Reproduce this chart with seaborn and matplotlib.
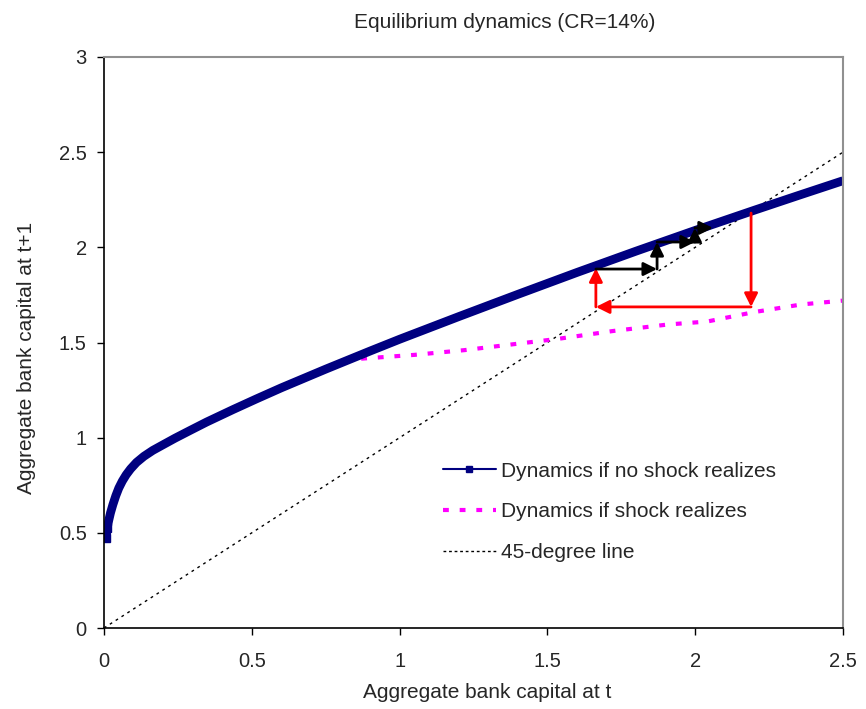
import matplotlib
matplotlib.use("Agg")
import matplotlib.pyplot as plt
from matplotlib.lines import Line2D
import seaborn as sns
import pandas as pd

# no-shock dynamics
k_t = [0.007, 0.011, 0.016, 0.022, 0.03, 0.04, 0.05, 0.062, 0.075, 0.09,
       0.11, 0.135, 0.165, 0.2, 0.24, 0.29, 0.347, 0.437, 0.516, 0.6, 0.75,
       0.9, 1.0, 1.2, 1.4, 1.6, 1.8, 2.0, 2.2, 2.35, 2.5]
k_next = [0.473, 0.527, 0.565, 0.605, 0.648, 0.695, 0.735, 0.772, 0.805, 0.836,
          0.870, 0.902, 0.933, 0.963, 0.997, 1.037, 1.082, 1.148, 1.204, 1.262,
          1.36, 1.455, 1.517, 1.636, 1.753, 1.868, 1.98, 2.089, 2.195, 2.273,
          2.35]

# shock dynamics
k_t_shock = [0.87, 1.05, 1.22, 1.38, 1.54, 1.72, 1.91, 2.04, 2.2, 2.36, 2.5]
k_next_shock = [1.415, 1.435, 1.46, 1.49, 1.52, 1.56, 1.595, 1.61, 1.66, 1.70, 1.72]

diag = [0, 2.5]

# arrow paths
red_path = [(2.189, 2.18), (2.189, 1.687), (1.664, 1.687), (1.664, 1.89)]
black_path = [(1.664, 1.886), (1.871, 1.886), (1.871, 2.028), (1.999, 2.028),
              (1.999, 2.102), (2.06, 2.102)]

no_shock = pd.DataFrame({'x': k_t, 'y': k_next})
shock = pd.DataFrame({'x': k_t_shock, 'y': k_next_shock})
line45 = pd.DataFrame({'x': diag, 'y': diag})

sns.set_style("ticks")
plt.rcParams['font.family'] = ['Liberation Sans', 'DejaVu Sans']

fig = plt.figure(figsize=(8.66, 7.09), dpi=100)
ax = fig.add_axes([104 / 866, 1 - 628 / 709, 739 / 866, 571 / 709])

navy = '#000080'
pink = '#FF00FF'

sns.lineplot(x='x', y='y', data=line45, ax=ax, color='black', lw=1,
             linestyle=(0, (2, 3)))
sns.lineplot(x='x', y='y', data=shock, ax=ax, color=pink, lw=3,
             linestyle=(0, (1.4, 2.6)))
sns.lineplot(x='x', y='y', data=no_shock, ax=ax, color=navy, lw=6.3,
             solid_capstyle='butt')
ax.plot(k_t[:2], k_next[:2], 's', color=navy, ms=6)

def draw_path(path, color):
    for (x0, y0), (x1, y1) in zip(path[:-1], path[1:]):
        ax.annotate('', xy=(x1, y1), xytext=(x0, y0),
                    arrowprops=dict(arrowstyle='-|>', color=color, lw=2,
                                    mutation_scale=20, shrinkA=0, shrinkB=0))

draw_path(red_path, '#FF0000')
draw_path(black_path, 'black')

ax.set_xlim(0, 2.5)
ax.set_ylim(0, 3)
ax.set_xticks([0, 0.5, 1, 1.5, 2, 2.5])
ax.set_xticklabels(['0', '0.5', '1', '1.5', '2', '2.5'])
ax.set_yticks([0, 0.5, 1, 1.5, 2, 2.5, 3])
ax.set_yticklabels(['0', '0.5', '1', '1.5', '2', '2.5', '3'])
ax.tick_params(labelsize=14.5, length=5, width=1, color='black')
ax.tick_params(axis='x', pad=12)
ax.tick_params(axis='y', pad=7.5)
ax.set_xlabel('')
ax.set_ylabel('')
for s in ['top', 'right']:
    ax.spines[s].set_color('#909090')
    ax.spines[s].set_linewidth(1.5)
for s in ['left', 'bottom']:
    ax.spines[s].set_color('black')
    ax.spines[s].set_linewidth(1.2)

fig.text(505 / 866, 1 - 22 / 709, 'Equilibrium dynamics (CR=14%)', ha='center',
         va='center', fontsize=15)
fig.text(487 / 866, 1 - 692 / 709, 'Aggregate bank capital at t', ha='center',
         va='center', fontsize=15)
fig.text(27 / 866, 1 - 358 / 709, 'Aggregate bank capital at t+1', ha='center',
         va='center', rotation=90, fontsize=15)

handles = [
    Line2D([], [], color=navy, lw=1.5, marker='s', ms=5),
    Line2D([], [], color=pink, lw=3, linestyle=(0, (1.4, 2.6))),
    Line2D([], [], color='black', lw=1, linestyle=(0, (2, 2))),
]
labels = ['Dynamics if no shock realizes', 'Dynamics if shock realizes',
          '45-degree line']
ax.legend(handles, labels, loc='upper left', bbox_to_anchor=(0.433, 0.324),
          frameon=False, fontsize=15, handlelength=2.55, handletextpad=0.25,
          labelspacing=1.04)

fig.savefig('out.png', dpi=100)
